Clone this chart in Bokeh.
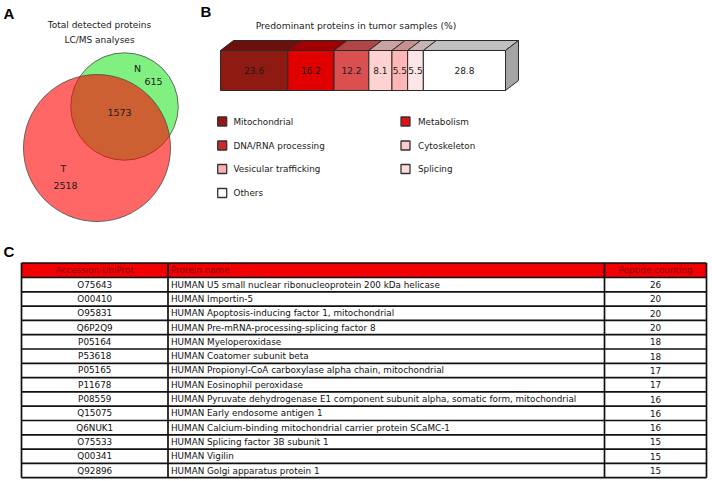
import math
from bokeh.plotting import figure
from bokeh.models import Range1d
from bokeh.core.properties import value
from bokeh.embed import file_html
from bokeh.resources import INLINE

# ---------------- data ----------------
venn_sets = ["T", "N"]
venn_only = [2518, 615]
venn_shared = 1573

bar_categories = ["Mitochondrial", "Metabolism", "DNA/RNA processing", "Cytoskeleton",
                  "Vesicular trafficking", "Splicing", "Others"]
bar_values = [23.6, 16.2, 12.2, 8.1, 5.5, 5.5, 28.8]
bar_labels = ["23.6", "16.2", "12.2", "8.1", "5.5", "5.5", "28.8"]

table_header = ["Accession UniProt", "Protein name", "Peptide counting"]
accessions = ["O75643", "O00410", "O95831", "Q6P2Q9", "P05164", "P53618", "P05165",
              "P11678", "P08559", "Q15075", "Q6NUK1", "O75533", "Q00341", "Q92896"]
protein_names = [
    "HUMAN U5 small nuclear ribonucleoprotein 200 kDa helicase",
    "HUMAN Importin-5",
    "HUMAN Apoptosis-inducing factor 1, mitochondrial",
    "HUMAN Pre-mRNA-processing-splicing factor 8",
    "HUMAN Myeloperoxidase",
    "HUMAN Coatomer subunit beta",
    "HUMAN Propionyl-CoA carboxylase alpha chain, mitochondrial",
    "HUMAN Eosinophil peroxidase",
    "HUMAN Pyruvate dehydrogenase E1 component subunit alpha, somatic form, mitochondrial",
    "HUMAN Early endosome antigen 1",
    "HUMAN Calcium-binding mitochondrial carrier protein SCaMC-1",
    "HUMAN Splicing factor 3B subunit 1",
    "HUMAN Vigilin",
    "HUMAN Golgi apparatus protein 1",
]
peptide_counts = [26, 20, 20, 20, 18, 18, 17, 17, 16, 16, 16, 15, 15, 15]

# ---------------- styles ----------------
FONT = value("DejaVu Sans")
BOLD = value("Liberation Sans")
front_colors = ["#8e1a12", "#e00000", "#da4f4f", "#ffd2d2", "#ffb6b6", "#ffe6e6", "#ffffff"]
top_colors = ["#6c100b", "#a20000", "#b04646", "#c9a2a2", "#c99090", "#c8b2b2", "#c0c0c0"]
legend_colors = ["#9c1410", "#e01010", "#cc2a2a", "#ffcaca", "#ffb0b0", "#ffdcdc", "#ffffff"]
side_color = "#a4a4a4"
edge = "#2a2a2a"
TXT = "#1a1a1a"

p = figure(width=712, height=481, x_range=Range1d(0, 712), y_range=Range1d(481, 0),
           output_backend="svg", toolbar_location=None, min_border=0,
           x_axis_type=None, y_axis_type=None)
p.grid.visible = False
p.outline_line_color = None
p.background_fill_color = "white"
p.border_fill_color = "white"

# ---------------- panel labels ----------------
p.text(x=[3, 200, 3], y=[4, 2, 242], text=["A", "B", "C"], text_font=BOLD,
       text_font_style="bold", text_font_size="15px", text_baseline="top",
       text_align="left", text_color="black")

# ---------------- Venn (A) ----------------
totT = venn_only[0] + venn_shared
totN = venn_only[1] + venn_shared
k = 73.5 / math.sqrt(totT)
rT, rN = k * math.sqrt(totT), k * math.sqrt(totN)
cT = (96.5, 147.5)
cN = (124.0, 106.0)
p.ellipse(x=[cN[0]], y=[cN[1]], width=2 * rN, height=2 * rN,
          fill_color="#80f080", line_color="#4a4a4a", line_width=0.8)
p.ellipse(x=[cT[0]], y=[cT[1]], width=2 * rT, height=2 * rT,
          fill_color="#ff0000", fill_alpha=0.6, line_color="#4a4a4a", line_width=0.8)
p.text(x=[99, 99], y=[24, 39], text=["Total detected proteins", "LC/MS analyses"],
       text_font=FONT, text_font_size="9px", text_align="center",
       text_baseline="middle", text_color=TXT)
p.text(x=[137, 63], y=[68, 168], text=venn_sets[::-1], text_font=FONT,
       text_font_size="9.5px", text_align="center", text_baseline="middle", text_color=TXT)
p.text(x=[153, 119, 65], y=[81, 112, 185],
       text=[str(venn_only[1]), str(venn_shared), str(venn_only[0])],
       text_font=FONT, text_font_size="9.5px", text_align="center",
       text_baseline="middle", text_color=TXT)

# ---------------- 3D stacked bar (B) ----------------
bx0, bw = 220.0, 285.0
ytop, ybot = 50.0, 90.0
dx, dy = 13.0, 10.0
scale = bw / sum(bar_values)
lefts, rights = [], []
acc = bx0
for v in bar_values:
    lefts.append(acc)
    acc += v * scale
    rights.append(acc)
p.patches(xs=[[l, r, r + dx, l + dx] for l, r in zip(lefts, rights)],
          ys=[[ytop, ytop, ytop - dy, ytop - dy] for _ in lefts],
          fill_color=top_colors, line_color=edge, line_width=1)
p.quad(left=lefts, right=rights, top=[ytop] * len(lefts), bottom=[ybot] * len(lefts),
       fill_color=front_colors, line_color=edge, line_width=1)
xe = rights[-1]
p.patch(x=[xe, xe + dx, xe + dx, xe], y=[ytop, ytop - dy, ybot - dy, ybot],
        fill_color=side_color, line_color=edge, line_width=1)
p.text(x=[(l + r) / 2 for l, r in zip(lefts, rights)], y=[(ytop + ybot) / 2] * len(lefts),
       text=bar_labels, text_font=FONT, text_font_size="9px", text_align="center",
       text_baseline="middle", text_color=TXT)
p.text(x=[355.5], y=[25], text=["Predominant proteins in tumor samples (%)"], text_font=FONT,
       text_font_size="9.2px", text_align="center", text_baseline="middle", text_color=TXT)

# legend
lx_sq = [221.7, 405.0]
lx_tx = [233.0, 417.5]
ly = [121.0, 145.0, 168.5, 192.5]
sq_x = [lx_sq[i % 2] for i in range(len(bar_categories))]
sq_y = [ly[i // 2] for i in range(len(bar_categories))]
p.rect(x=sq_x, y=sq_y, width=9, height=9, fill_color=legend_colors,
       line_color="#333333", line_width=1.3)
p.text(x=[lx_tx[i % 2] for i in range(len(bar_categories))], y=sq_y, text=bar_categories,
       text_font=FONT, text_font_size="8.8px", text_align="left", text_baseline="middle",
       text_color=TXT)

# ---------------- table (C) ----------------
tl, c1, c2, tr = 21.0, 167.5, 604.0, 706.0
ht, hb = 262.5, 277.0
rh = 14.3
n = len(accessions)
tb = hb + n * rh
p.quad(left=[tl], right=[tr], top=[ht], bottom=[hb], fill_color="#f00000", line_color=None)
hy = (ht + hb) / 2
p.text(x=[(tl + c1) / 2, c1 + 3, (c2 + tr) / 2], y=[hy] * 3, text=table_header,
       text_font=FONT, text_font_size="8.8px", text_align=["center", "left", "center"],
       text_baseline="middle", text_color="#8a0000")
row_y = [hb + (i + 0.5) * rh for i in range(n)]
p.text(x=[(tl + c1) / 2] * n, y=row_y, text=accessions, text_font=FONT, text_font_size="8.8px",
       text_align="center", text_baseline="middle", text_color="#111111")
p.text(x=[c1 + 3] * n, y=row_y, text=protein_names, text_font=FONT, text_font_size="8.8px",
       text_align="left", text_baseline="middle", text_color="#111111")
p.text(x=[(c2 + tr) / 2] * n, y=row_y, text=[str(c) for c in peptide_counts], text_font=FONT,
       text_font_size="8.8px", text_align="center", text_baseline="middle", text_color="#111111")
hlines = [ht, hb] + [hb + (i + 1) * rh for i in range(n)]
p.segment(x0=[tl] * len(hlines), x1=[tr] * len(hlines), y0=hlines, y1=hlines,
          line_color="#111111", line_width=1.7)
p.segment(x0=[tl, c1, c2, tr], x1=[tl, c1, c2, tr], y0=[ht] * 4, y1=[tb] * 4,
          line_color="#111111", line_width=1.7)

open("out.html", "w").write(file_html(p, INLINE))
